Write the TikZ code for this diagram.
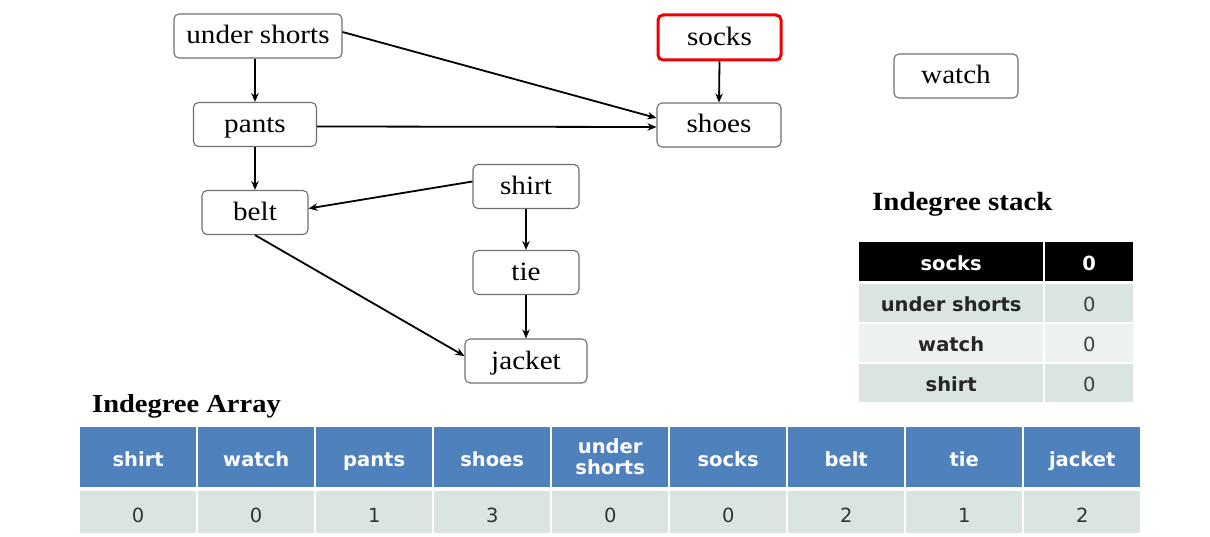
\documentclass[tikz,border=0pt]{standalone}
\usepackage{fontspec}
\setmainfont{Liberation Serif}
\newfontfamily\gfont[FakeStretch=1.1]{Liberation Serif}
\newfontfamily\sfont{DejaVu Sans}
\usetikzlibrary{arrows.meta}
\definecolor{hdrblue}{HTML}{4F81BD}
\definecolor{rowA}{HTML}{DAE5E3}
\definecolor{rowB}{HTML}{EDF2F1}
\definecolor{nodeline}{HTML}{6E6E6E}
\definecolor{hlred}{HTML}{F00000}
\tikzset{
  gnode/.style={draw=nodeline, line width=1.1pt, rounded corners=5pt, inner sep=0pt,
    minimum height=44pt, text height=21pt, text depth=5pt, font=\gfont\fontsize{26.5}{28}\selectfont},
  arr/.style={line width=1.8pt, -{Stealth[length=9pt,width=7.5pt]}},
  cell/.style={inner sep=0pt, anchor=north west, align=center},
  hcell/.style={cell, fill=hdrblue, text=white, font=\sfont\bfseries\fontsize{19.5}{21}\selectfont},
  dcell/.style={cell, fill=rowA, text=black!80, text height=20pt, text depth=0pt, font=\sfont\fontsize{19.5}{20}\selectfont},
  skh/.style={cell, fill=black, text=white, text height=19pt, text depth=2pt, font=\sfont\bfseries\fontsize{19.5}{20}\selectfont},
  skname/.style={cell, text=black!85, text height=19pt, text depth=2pt, font=\sfont\bfseries\fontsize{19.5}{20}\selectfont},
  sknum/.style={cell, text=black!75, text height=19pt, text depth=2pt, font=\sfont\fontsize{19.5}{20}\selectfont},
  ttl/.style={anchor=base west, inner sep=0pt, font=\gfont\bfseries\fontsize{26.3}{28}\selectfont}
}
\begin{document}
\begin{tikzpicture}[x=1pt,y=-1pt]
\useasboundingbox (0,0) rectangle (1210,537);
% graph nodes
\node[gnode, minimum width=168pt] (us) at (258,36) {under shorts};
\node[gnode, minimum width=123pt] (pants) at (255,124.5) {pants};
\node[gnode, minimum width=106pt] (belt) at (255,212.5) {belt};
\node[gnode, minimum width=106pt] (shirt) at (526,186.5) {shirt};
\node[gnode, minimum width=106pt] (tie) at (526,272.5) {tie};
\node[gnode, minimum width=122pt] (jacket) at (526,361) {jacket};
\node[gnode, draw=hlred, line width=3pt, minimum width=123pt, minimum height=45pt] (socks) at (719.5,37.5) {socks};
\node[gnode, minimum width=124pt] (shoes) at (719,125) {shoes};
\node[gnode, minimum width=124pt] (watch) at (956,76) {watch};
% edges
\draw[arr] (us.south -| pants.north) -- (pants.north);
\draw[arr] ([yshift=4pt]us.east) -- ([yshift=7pt]shoes.west);
\draw[arr] ([yshift=-2pt]pants.east) -- ([yshift=-2pt]shoes.west);
\draw[arr] (pants.south) -- (belt.north);
\draw[arr] ([yshift=5pt]shirt.west) -- ([yshift=4pt]belt.east);
\draw[arr] (shirt.south) -- (tie.north);
\draw[arr] (tie.south) -- (jacket.north);
\draw[arr] (belt.south) -- ([yshift=5pt]jacket.west);
\draw[arr] (socks.south) -- (shoes.north);
% titles
\node[ttl] (stitle) at (872,211) {Indegree stack};
\node[ttl, font=\gfont\bfseries\fontsize{25.9}{28}\selectfont] (atitle) at (92,412) {Indegree Array};
% stack table
\node[skh, minimum width=184pt, minimum height=39pt] (s1a) at (859,242) {socks};
\node[skh, minimum width=88pt, minimum height=39pt] (s1b) at (1045,242) {0};
\node[skname, fill=rowA, minimum width=184pt, minimum height=38pt] (s2a) at (859,284) {under shorts};
\node[sknum, fill=rowA, minimum width=88pt, minimum height=38pt] (s2b) at (1045,284) {0};
\node[skname, fill=rowB, minimum width=184pt, minimum height=38pt] (s3a) at (859,324) {watch};
\node[sknum, fill=rowB, minimum width=88pt, minimum height=38pt] (s3b) at (1045,324) {0};
\node[skname, fill=rowA, minimum width=184pt, minimum height=38pt] (s4a) at (859,364) {shirt};
\node[sknum, fill=rowA, minimum width=88pt, minimum height=38pt] (s4b) at (1045,364) {0};
% array table
\foreach \i/\h/\v in {0/shirt/0,1/watch/0,2/pants/1,3/shoes/3,5/socks/0,6/belt/2,7/tie/1,8/jacket/2}{
  \node[hcell, text height=20pt, text depth=2pt, minimum width=116pt, minimum height=60pt] (h\i) at ({80+118*\i},427) {\h};
  \node[dcell, minimum width=116pt, minimum height=42pt] (d\i) at ({80+118*\i},491) {\v};
}
\node[hcell, minimum width=116pt, minimum height=60pt] (h4) at (552,427) {under\\shorts};
\node[dcell, minimum width=116pt, minimum height=42pt] (d4) at (552,491) {0};
\end{tikzpicture}
\end{document}
